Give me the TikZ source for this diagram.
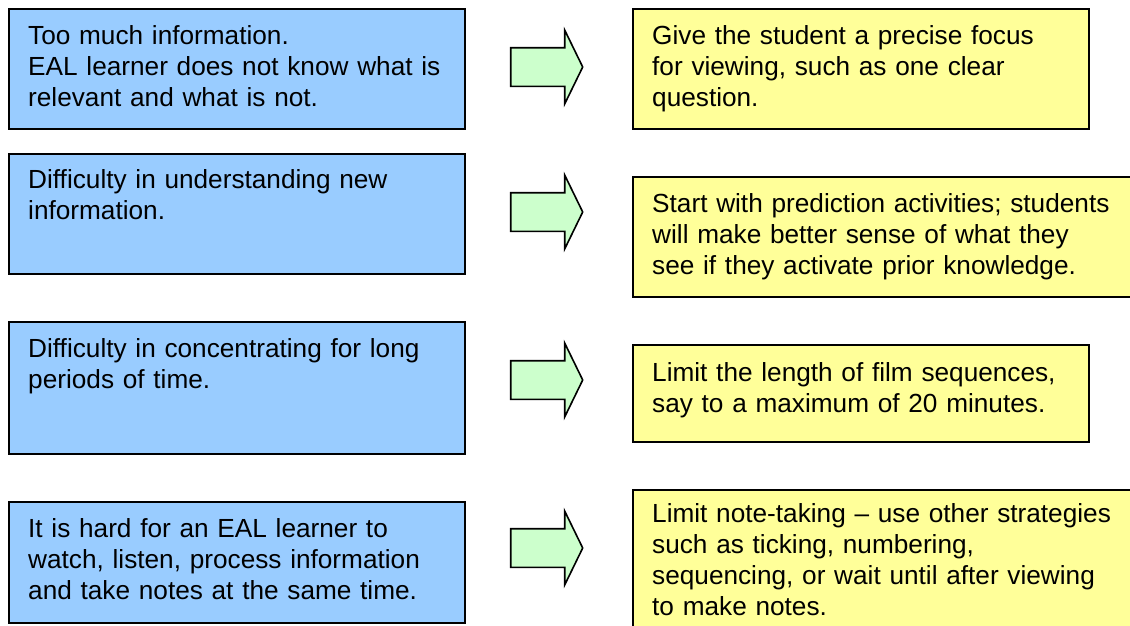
\documentclass[tikz,border=0pt]{standalone}
\usepackage{fontspec}
\setmainfont{Liberation Sans}
\usetikzlibrary{shapes.arrows}

\definecolor{problemblue}{HTML}{99CCFF}
\definecolor{remedyyellow}{HTML}{FFFF99}
\definecolor{hintgreen}{HTML}{CCFFCC}

\tikzset{
  problem/.style={draw, line width=1.6pt, fill=problemblue, anchor=north west,
    minimum width=456pt, inner sep=0pt},
  remedy/.style={draw, line width=1.6pt, fill=remedyyellow, anchor=north west,
    minimum width=456pt, inner sep=0pt},
  hint/.style={single arrow, draw, line width=1.6pt, fill=hintgreen, inner sep=0pt,
    text height=37pt, text depth=0pt, minimum height=72pt,
    single arrow head extend=17.5pt, single arrow tip angle=128},
  txt/.style={anchor=base west, inner sep=0pt, align=left, text width=470pt,
    font=\fontsize{26.2}{31}\selectfont}
}

\begin{document}
\begin{tikzpicture}[x=1pt, y=-1pt]
  \useasboundingbox (0,0) rectangle (1130,625);
  \clip (0,0) rectangle (1130,625);

  % problems on the left
  \node[problem, minimum height=120pt] (l1) at (8,8) {};
  \node[problem, minimum height=120pt] (l2) at (8,153) {};
  \node[problem, minimum height=132pt] (l3) at (8,321) {};
  \node[problem, minimum height=121pt] (l4) at (8,501) {};

  % remedies on the right
  \node[remedy, minimum height=120pt] (r1) at (632,8) {};
  \node[remedy, minimum height=120pt, minimum width=520pt] (r2) at (632,176) {};
  \node[remedy, minimum height=97pt] (r3) at (632,344) {};
  \node[remedy, minimum height=160pt, minimum width=520pt] (r4) at (632,489) {};

  \node[txt] (lt1) at ([shift={(20pt,-36pt)}]l1.north west)
    {Too much information.\\EAL learner does not know what is\\relevant and what is not.};
  \node[txt] (lt2) at ([shift={(20pt,-35pt)}]l2.north west)
    {Difficulty in understanding new\\information.};
  \node[txt] (lt3) at ([shift={(20pt,-36pt)}]l3.north west)
    {Difficulty in concentrating for long\\periods of time.};
  \node[txt] (lt4) at ([shift={(20pt,-36pt)}]l4.north west)
    {It is hard for an EAL learner to\\watch, listen, process information\\and take notes at the same time.};

  \node[txt] (rt1) at ([shift={(20pt,-36pt)}]r1.north west)
    {Give the student a precise focus\\for viewing, such as one clear\\question.};
  \node[txt] (rt2) at ([shift={(20pt,-36pt)}]r2.north west)
    {Start with prediction activities; students\\will make better sense of what they\\see if they activate prior knowledge.};
  \node[txt] (rt3) at ([shift={(20pt,-37pt)}]r3.north west)
    {Limit the length of film sequences,\\say to a maximum of 20 minutes.};
  \node[txt] (rt4) at ([shift={(20pt,-33pt)}]r4.north west)
    {Limit note-taking – use other strategies\\such as ticking, numbering,\\sequencing, or wait until after viewing\\to make notes.};

  % arrows between the columns
  \node[hint] (a1) at (542,67) {};
  \node[hint] (a2) at (542,212) {};
  \node[hint] (a3) at (542,380) {};
  \node[hint] (a4) at (542,548) {};
\end{tikzpicture}
\end{document}
